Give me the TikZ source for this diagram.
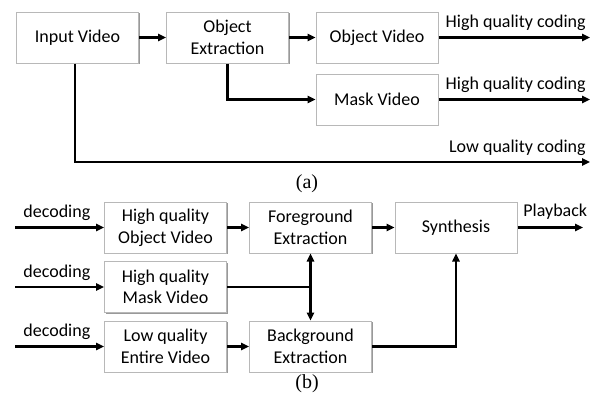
\documentclass[tikz,border=0pt]{standalone}
\usepackage{fontspec}
\setmainfont{Carlito}
\newfontfamily\capfont{Liberation Serif}
\usetikzlibrary{arrows.meta,shadows}

\begin{document}
\begin{tikzpicture}[x=0.5pt,y=-0.5pt,
    blk/.style={draw=black!28, line width=0.5pt, fill=white,
        minimum width=61pt, minimum height=25.5pt, align=center,
        font=\fontsize{9}{10.8}\selectfont,
        drop shadow={shadow xshift=0.7pt, shadow yshift=-0.7pt, fill=black!40, opacity=1}},
    lbl/.style={font=\fontsize{9}{10.8}\selectfont},
    captxt/.style={font=\capfont\fontsize{10}{12}\selectfont},
    ln/.style={line width=1.2pt},
    arr/.style={ln, -{Triangle[length=4pt,width=3.6pt]}},
    dbl/.style={ln, {Triangle[length=4pt,width=3.6pt]}-{Triangle[length=4pt,width=3.6pt]}}]
    \tikzstyle{every node}+=[inner sep=0pt]
    \useasboundingbox (0,0) rectangle (594,404);
    % (a) coding side
    \node[blk] (input) at (77.5,37.5) {Input Video};
    \node[blk] (objext) at (227.5,37.5) {Object\\Extraction};
    \node[blk] (objvid) at (377,37.5) {Object Video};
    \node[blk] (maskvid) at (377,99.5) {Mask Video};
    \coordinate (hqa) at (590,37.5);
    \coordinate (hqb) at (590,99.5);
    \coordinate (lqa) at (590,162);
    \draw[arr] (input) -- (objext);
    \draw[arr] (objext) -- (objvid);
    \draw[arr] (objvid) -- (hqa);
    \draw[arr] (objext.south) |- (maskvid);
    \draw[arr] (maskvid) -- (hqb);
    \draw[arr] ([xshift=-1.25pt]input.south) |- (lqa);
    \node[lbl, anchor=south east] (hqlbla) at (586,31) {High quality coding};
    \node[lbl, anchor=south east] (hqlblb) at (586,93) {High quality coding};
    \node[lbl, anchor=south east] (lqlbl) at (586,155.5) {Low quality coding};
    \node[captxt] (capa) at (307,184) {(a)};
    % (b) decoding side
    \node[blk] (hqobj) at (165.5,227.5) {High quality\\Object Video};
    \node[blk] (hqmask) at (165.5,287) {High quality\\Mask Video};
    \node[blk] (lqent) at (165.5,346.5) {Low quality\\Entire Video};
    \node[blk] (fgext) at (310.5,227.5) {Foreground\\Extraction};
    \node[blk] (bgext) at (310.5,346.5) {Background\\Extraction};
    \node[blk] (synth) at (456,227.5) {Synthesis};
    \coordinate (deca) at (15,227.5);
    \coordinate (decb) at (15,287);
    \coordinate (decc) at (15,346.5);
    \coordinate (play) at (583,227.5);
    \draw[arr] (deca) -- (hqobj);
    \draw[arr] (decb) -- (hqmask);
    \draw[arr] (decc) -- (lqent);
    \node[lbl, anchor=south west] (declbla) at (23,221) {decoding};
    \node[lbl, anchor=south west] (declblb) at (23,280.5) {decoding};
    \node[lbl, anchor=south west] (declblc) at (23,339.5) {decoding};
    \draw[arr] (hqobj) -- (fgext);
    \draw[arr] (lqent) -- (bgext);
    \draw[ln] (hqmask) -- (hqmask -| fgext);
    \draw[dbl] (fgext) -- (bgext);
    \draw[arr] (fgext) -- (synth);
    \draw[arr] (bgext) -| (synth);
    \draw[arr] (synth) -- (play);
    \node[lbl, anchor=south west] (playlbl) at (523,220) {Playback};
    \node[captxt] (capb) at (307,384) {(b)};
\end{tikzpicture}
\end{document}
